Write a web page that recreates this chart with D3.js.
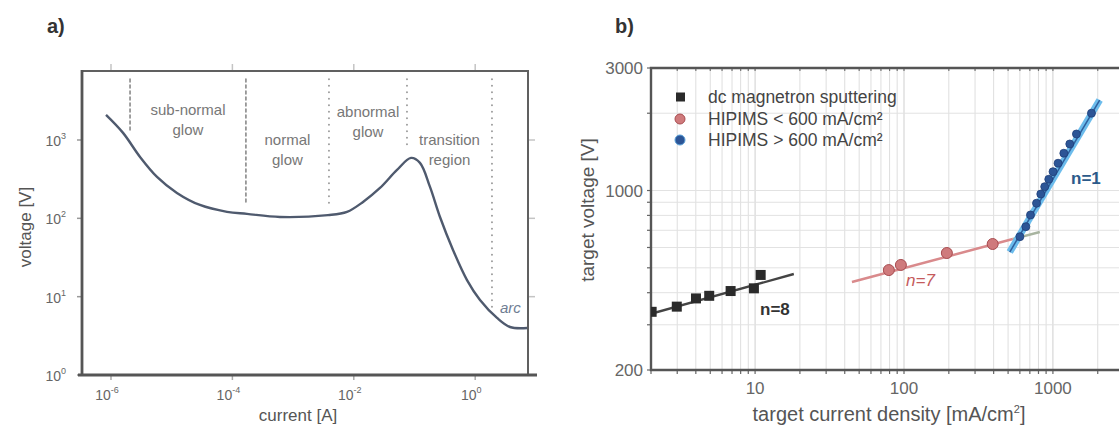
<!DOCTYPE html>
<html>
<head>
<meta charset="utf-8">
<script src="https://cdn.jsdelivr.net/npm/d3@7"></script>
<style>
  body { margin: 0; background: #fff; }
  svg { font-family: "Liberation Sans", Arial, sans-serif; }
  .tick-a { fill: #666; font-size: 14px; }
  .tick-b { fill: #666; font-size: 17px; }
  .region { fill: #777; font-size: 15px; }
</style>
</head>
<body>
<div id="chart"></div>
<script>
// ---- panel a: glow discharge V-I curve ----
const currentA = [8.28e-7, 1.58e-6, 3.01e-6, 5.73e-6, 1.22e-5, 2.92e-5, 8.15e-5, 1.74e-4, 6.08e-4, 3.76e-3,
                  7.73e-3, 1.42e-2, 2.70e-2, 5.15e-2, 8.75e-2, 0.123, 0.180, 0.263, 0.431, 0.733,
                  1.20, 2.29, 3.74, 7.2];
const voltageA = [2093, 1233, 608, 338, 211, 148, 121, 114, 104, 110,
                  121, 162, 244, 415, 591, 510, 252, 104, 39.5, 16.3,
                  9.08, 5.35, 4.10, 3.98];
const xTicksA = [1e-6, 1e-4, 1e-2, 1];
const xExpA = ["-6", "-4", "-2", "0"];
const yTicksA = [1000, 100, 10, 1];
const yExpA = ["3", "2", "1", "0"];
const boundaryX = [2.06e-6, 1.67e-4, 3.90e-3, 7.52e-2, 1.89];
const boundaryEnd = [1268, 157, 157, 748, 7.17];
const regionNames = [["sub-normal", "glow"], ["normal", "glow"], ["abnormal", "glow"], ["transition", "region"]];

// ---- panel b: target voltage vs current density ----
const dcJ = [2.02, 2.98, 4.01, 4.92, 6.85, 9.82, 10.9];
const dcV = [337, 353, 380, 389, 406, 416, 469];
const lowJ = [79.1, 95.3, 194, 394];
const lowV = [490, 513, 571, 619];
const highJ = [600, 658, 707, 776, 829, 881, 938, 1002, 1083, 1184, 1298, 1439, 1815];
const highV = [661, 723, 803, 892, 969, 1035, 1106, 1184, 1277, 1397, 1518, 1660, 2000];
const dcFitJ = [2, 18.2], dcFitV = [331, 473];
const lowFitJ = [44.7, 538], lowFitV = [440, 647];
const lowFitTailJ = [538, 817], lowFitTailV = [647, 689];
const highFitJ = [513, 2061], highFitV = [576, 2250];
const xTicksB = [10, 100, 1000];
const yTicksB = [3000, 1000, 200];
const legendLabels = ["dc magnetron sputtering", "HIPIMS < 600 mA/cm²", "HIPIMS > 600 mA/cm²"];

const svg = d3.select("#chart").append("svg")
    .attr("width", 1119).attr("height", 429);

// ===== panel a =====
const xa = d3.scaleLog().domain([3.33e-7, 7.41]).range([82, 528]);
const ya = d3.scaleLog().domain([1, 7600]).range([375, 71]);

const a = svg.append("g");

// faint outer ticks
a.selectAll(".ttop").data(xTicksA).enter().append("line")
    .attr("x1", d => xa(d)).attr("x2", d => xa(d))
    .attr("y1", 64).attr("y2", 71)
    .attr("stroke", "#c4c4c4").attr("stroke-width", 1.5);
a.selectAll(".tright").data(yTicksA.slice(0, 3)).enter().append("line")
    .attr("x1", 528).attr("x2", 535)
    .attr("y1", d => ya(d)).attr("y2", d => ya(d))
    .attr("stroke", "#c4c4c4").attr("stroke-width", 1.5);
a.selectAll(".tleft").data(yTicksA).enter().append("line")
    .attr("x1", 77).attr("x2", 82)
    .attr("y1", d => ya(d)).attr("y2", d => ya(d))
    .attr("stroke", "#999").attr("stroke-width", 1.5);
a.selectAll(".tbot").data(xTicksA).enter().append("line")
    .attr("x1", d => xa(d)).attr("x2", d => xa(d))
    .attr("y1", 375).attr("y2", 380)
    .attr("stroke", "#aaa").attr("stroke-width", 1.5);

// frame
a.append("rect").attr("x", 82).attr("y", 71).attr("width", 446).attr("height", 304)
    .attr("fill", "none").attr("stroke", "#606060").attr("stroke-width", 2);
a.append("line").attr("x1", 82).attr("x2", 82).attr("y1", 70).attr("y2", 376)
    .attr("stroke", "#555").attr("stroke-width", 2.8);
a.append("line").attr("x1", 78).attr("x2", 537).attr("y1", 375).attr("y2", 375)
    .attr("stroke", "#555").attr("stroke-width", 2.8);

// region boundaries
a.selectAll(".bound").data(boundaryX).enter().append("line")
    .attr("x1", d => xa(d)).attr("x2", d => xa(d))
    .attr("y1", 79).attr("y2", (d, i) => ya(boundaryEnd[i]))
    .attr("stroke", "#8a8a8a").attr("stroke-width", 1.6)
    .attr("stroke-linecap", "round")
    .attr("stroke-dasharray", (d, i) => i < 2 ? "3,3" : "0.5,6");

// region labels, centred between boundaries
const regionY = [110, 140, 112, 140];
regionNames.forEach((lines, i) => {
    const cx = (xa(boundaryX[i]) + xa(boundaryX[i + 1])) / 2;
    lines.forEach((t, k) => {
        a.append("text").attr("class", "region")
            .attr("x", cx).attr("y", regionY[i] + 5 + k * 20)
            .attr("text-anchor", "middle").text(t);
    });
});
a.append("text").attr("class", "region")
    .attr("x", xa(boundaryX[4]) + 8).attr("y", ya(boundaryEnd[4]) + 5)
    .style("fill", "#6f7d93").style("font-style", "italic").text("arc");

// curve
const pts = currentA.map((c, i) => [c, voltageA[i]]);
a.append("path").datum(pts)
    .attr("fill", "none").attr("stroke", "#4f5a6e").attr("stroke-width", 2.4)
    .attr("d", d3.line().x(d => xa(d[0])).y(d => ya(d[1])).curve(d3.curveCatmullRom.alpha(0.5)));

// tick labels
xTicksA.forEach((t, i) => {
    const tx = a.append("text").attr("class", "tick-a")
        .attr("x", xa(t) - 4).attr("y", 400).attr("text-anchor", "middle");
    tx.append("tspan").text("10");
    tx.append("tspan").attr("dy", -7).style("font-size", "9px").text(xExpA[i]);
});
yTicksA.forEach((t, i) => {
    const ty = a.append("text").attr("class", "tick-a")
        .attr("x", 66).attr("y", ya(t) + 6).attr("text-anchor", "end");
    ty.append("tspan").text("10");
    ty.append("tspan").attr("dy", -7).style("font-size", "9px").text(yExpA[i]);
});

a.append("text").attr("x", 298).attr("y", 421)
    .attr("text-anchor", "middle").style("font-size", "17px").style("fill", "#555").text("current [A]");
a.append("text")
    .attr("transform", "translate(31,227) rotate(-90)")
    .attr("text-anchor", "middle").style("font-size", "17px").style("fill", "#555").text("voltage [V]");
svg.append("text").attr("x", 47).attr("y", 33)
    .style("font-size", "20px").style("font-weight", "bold").style("fill", "#333").text("a)");

// ===== panel b =====
const xb = d3.scaleLog().domain([2, 5000]).range([651, 1157]);
const yb = d3.scaleLog().domain([200, 3000]).range([370, 68]);
const b = svg.append("g");

b.append("clipPath").attr("id", "clipB").append("rect")
    .attr("x", 651).attr("y", 68).attr("width", 480).attr("height", 302);

// grid on every log tick
const gridX = xb.ticks();
const gridY = yb.ticks();
const grid = b.append("g").attr("clip-path", "url(#clipB)");
grid.selectAll(".gx").data(gridX).enter().append("line")
    .attr("x1", d => xb(d)).attr("x2", d => xb(d)).attr("y1", 68).attr("y2", 370)
    .attr("stroke", d => xTicksB.includes(d) ? "#cfcfcf" : "#dedede").attr("stroke-width", 1);
grid.selectAll(".gy").data(gridY).enter().append("line")
    .attr("x1", 651).attr("x2", 1125).attr("y1", d => yb(d)).attr("y2", d => yb(d))
    .attr("stroke", "#e2e2e2").attr("stroke-width", 1);

// minor ticks along axes
b.selectAll(".mxb").data(gridX).enter().append("line")
    .attr("x1", d => xb(d)).attr("x2", d => xb(d)).attr("y1", 370).attr("y2", 374)
    .attr("stroke", "#666").attr("stroke-width", 1.2);
b.selectAll(".mxt").data(gridX).enter().append("line")
    .attr("x1", d => xb(d)).attr("x2", d => xb(d)).attr("y1", 68).attr("y2", 71)
    .attr("stroke", "#777").attr("stroke-width", 1.2);
b.selectAll(".myl").data(gridY).enter().append("line")
    .attr("x1", 647).attr("x2", 651).attr("y1", d => yb(d)).attr("y2", d => yb(d))
    .attr("stroke", "#666").attr("stroke-width", 1.2);

// frame
b.append("path").attr("d", "M1125,68H651V370H1125")
    .attr("fill", "none").attr("stroke", "#555").attr("stroke-width", 2.4);

const plot = b.append("g").attr("clip-path", "url(#clipB)");
const fitLine = d3.line().x(d => xb(d[0])).y(d => yb(d[1]));
const pair = (js, vs) => js.map((j, i) => [j, vs[i]]);

// fits
plot.append("path").datum(pair(lowFitTailJ, lowFitTailV))
    .attr("d", fitLine).attr("stroke", "#a8b4a0").attr("stroke-width", 2.5).attr("fill", "none");
plot.append("path").datum(pair(lowFitJ, lowFitV))
    .attr("d", fitLine).attr("stroke", "#d98a8c").attr("stroke-width", 2.5).attr("fill", "none");
plot.append("path").datum(pair(dcFitJ, dcFitV))
    .attr("d", fitLine).attr("stroke", "#444").attr("stroke-width", 2.4).attr("fill", "none");
plot.append("path").datum(pair(highFitJ, highFitV))
    .attr("d", fitLine).attr("stroke", "#6cbcec").attr("stroke-width", 7).attr("fill", "none");
plot.append("path").datum(pair(highFitJ, highFitV))
    .attr("d", fitLine).attr("stroke", "#2f5f9c").attr("stroke-width", 1.5).attr("fill", "none");

// points
plot.selectAll(".dc").data(dcJ).enter().append("rect")
    .attr("x", d => xb(d) - 5).attr("y", (d, i) => yb(dcV[i]) - 5)
    .attr("width", 10).attr("height", 10).attr("fill", "#2a2a2a");
plot.selectAll(".low").data(lowJ).enter().append("circle")
    .attr("cx", d => xb(d)).attr("cy", (d, i) => yb(lowV[i])).attr("r", 5.5)
    .attr("fill", "#cf7a7c").attr("stroke", "#a84c50").attr("stroke-width", 1);
plot.selectAll(".high").data(highJ).enter().append("circle")
    .attr("cx", d => xb(d)).attr("cy", (d, i) => yb(highV[i])).attr("r", 4)
    .attr("fill", "#2c5596").attr("stroke", "#1f3f78").attr("stroke-width", 0.8);

// slope labels
b.append("text").attr("x", 760).attr("y", 315).text("n=8")
    .style("font-size", "17px").style("font-weight", "bold").style("fill", "#333");
b.append("text").attr("x", 906).attr("y", 286).text("n=7")
    .style("font-size", "17px").style("font-style", "italic").style("fill", "#c55a5c");
b.append("text").attr("x", 1071).attr("y", 184).text("n=1")
    .style("font-size", "17px").style("font-weight", "bold").style("fill", "#2b5a8a");

// legend
const legY = [97, 119, 140];
b.append("rect").attr("x", 676).attr("y", legY[0] - 4.5).attr("width", 9).attr("height", 9).attr("fill", "#2a2a2a");
b.append("circle").attr("cx", 680).attr("cy", legY[1]).attr("r", 5)
    .attr("fill", "#cf7a7c").attr("stroke", "#a84c50");
b.append("circle").attr("cx", 680).attr("cy", legY[2]).attr("r", 5)
    .attr("fill", "#2c5596").attr("stroke", "#5aa0d8");
legendLabels.forEach((t, i) => {
    b.append("text").attr("x", 708).attr("y", legY[i] + 6).text(t)
        .style("font-size", "17.5px").style("fill", "#444");
});

// tick labels
xTicksB.forEach(t => {
    b.append("text").attr("class", "tick-b").attr("x", xb(t)).attr("y", 394)
        .attr("text-anchor", "middle").text(t);
});
yTicksB.forEach(t => {
    b.append("text").attr("class", "tick-b").attr("x", 643).attr("y", yb(t) + 6)
        .attr("text-anchor", "end").text(t);
});
const xt = b.append("text").attr("x", 889).attr("y", 421)
    .attr("text-anchor", "middle").style("font-size", "20px").style("fill", "#555")
    .text("target current density [mA/cm");
xt.append("tspan").attr("dy", -8).style("font-size", "11px").text("2");
xt.append("tspan").attr("dy", 8).text("]");
b.append("text")
    .attr("transform", "translate(594,210) rotate(-90)")
    .attr("text-anchor", "middle").style("font-size", "19px").style("fill", "#555")
    .text("target voltage [V]");
svg.append("text").attr("x", 615).attr("y", 33)
    .style("font-size", "20px").style("font-weight", "bold").style("fill", "#333").text("b)");
</script>
</body>
</html>
